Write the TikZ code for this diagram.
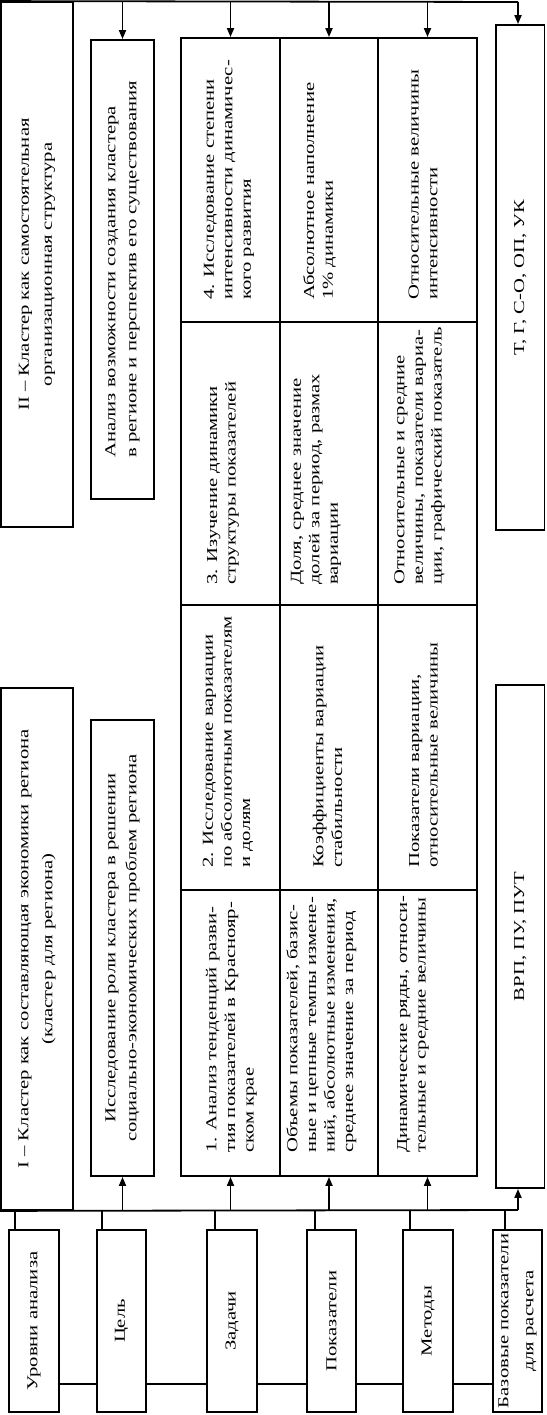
\documentclass[tikz,border=0pt]{standalone}
\usepackage{fontspec}
\setmainfont{Liberation Serif}[FakeStretch=1.36]
\usetikzlibrary{arrows.meta,calc,fit}
\begin{document}
\begin{tikzpicture}[x=1pt,y=-1pt,
  box/.style={draw,line width=1.8pt,fill=white,inner sep=0pt},
  txt/.style={rotate=90,inner sep=0pt,font=\fontsize{15.2}{23}\selectfont,align=center},
  txtl/.style={rotate=90,inner sep=0pt,font=\fontsize{15.2}{21}\selectfont,align=left},
  celltxt/.style={rotate=90,inner sep=0pt,anchor=west,font=\fontsize{15.2}{18.6}\selectfont,align=left},
  lnk/.style={line width=1.8pt},
  arr/.style={line width=1.8pt,-{Triangle[length=9pt,width=7pt]}},
]
\useasboundingbox (0,0) rectangle (546,1415);

% left column
\node[box,fit={(1,2)(73,527)}] (II) {};
\node[txt] at (II.center) {II – Кластер как самостоятельная\\организационная структура};
\node[box,fit={(1,688)(73,1210)}] (I) {};
\node[txt,font=\fontsize{15.2}{24}\selectfont] at (I.center) {I – Кластер как составляющая экономики региона\\(кластер для региона)};

% goal column
\node[box,fit={(91,40)(154,499)}] (an) {};
\node[txtl] at (an.center) {Анализ возможности создания кластера\\в регионе и перспектив его существования};
\node[box,fit={(91,720)(154,1176)}] (is) {};
\node[txt,font=\fontsize{15.2}{21}\selectfont] at (is.center) {Исследование роли кластера в решении\\социально-экономических проблем региона};

% table cells: c<col><band>
\node[box,fit={(181,890)(280,1176)}] (c11) {};
\node[box,fit={(280,890)(378,1176)}] (c21) {};
\node[box,fit={(378,890)(477,1176)}] (c31) {};
\node[box,fit={(181,605)(280,890)}] (c12) {};
\node[box,fit={(280,605)(378,890)}] (c22) {};
\node[box,fit={(378,605)(477,890)}] (c32) {};
\node[box,fit={(181,322)(280,605)}] (c13) {};
\node[box,fit={(280,322)(378,605)}] (c23) {};
\node[box,fit={(378,322)(477,605)}] (c33) {};
\node[box,fit={(181,38)(280,322)}] (c14) {};
\node[box,fit={(280,38)(378,322)}] (c24) {};
\node[box,fit={(378,38)(477,322)}] (c34) {};

\node[celltxt] at (231.5,1153) {1. Анализ тенденций разви-\\тия показателей в Краснояр-\\ском крае};
\node[celltxt] at (321.5,1153) {Объемы показателей, базис-\\ные и цепные темпы измене-\\ний, абсолютные изменения,\\среднее значение за период};
\node[celltxt] at (413,1153) {Динамические ряды, относи-\\тельные и средние величины};
\node[celltxt] at (228,868) {2. Исследование вариации\\по абсолютным показателям\\и долям};
\node[celltxt] at (327.5,868) {Коэффициенты вариации\\стабильности};
\node[celltxt] at (423.5,868) {Показатели вариации,\\относительные величины};
\node[celltxt] at (223,585) {3. Изучение динамики\\структуры показателей};
\node[celltxt] at (316,585) {Доля, среднее значение\\долей за период, размах\\вариации};
\node[celltxt] at (419.5,585) {Относительные и средние\\величины, показатели вариа-\\ции, графический показатель};
\node[celltxt] at (229,300) {4. Исследование степени\\интенсивности динамичес-\\кого развития};
\node[celltxt] at (319.5,300) {Абсолютное наполнение\\1\% динамики};
\node[celltxt] at (423,300) {Относительные величины\\интенсивности};

% right column
\node[box,fit={(496,25)(544.5,530)}] (tg) {};
\node[txt] at (tg.center) {Т, Г, С-О, ОП, УК};
\node[box,fit={(496,685)(544.5,1188)}] (vrp) {};
\node[txt] at (vrp.center) {ВРП, ПУ, ПУТ};

% bottom labels
\node[box,fit={(9,1230)(59,1412)}] (L1) {};
\node[box,fit={(97,1230)(146,1412)}] (L2) {};
\node[box,fit={(207,1230)(257,1412)}] (L3) {};
\node[box,fit={(307,1230)(356,1412)}] (L4) {};
\node[box,fit={(403,1230)(453,1412)}] (L5) {};
\node[box,fit={(493,1230)(542,1412)}] (L6) {};
\node[txt] at (L1.center) {Уровни анализа};
\node[txt] at (L2.center) {Цель};
\node[txt] at (L3.center) {Задачи};
\node[txt] at (L4.center) {Показатели};
\node[txt] at (L5.center) {Методы};
\node[txt,font=\fontsize{15.2}{25}\selectfont] at (L6.center) {Базовые показатели\\для расчета};

% links between bottom labels
\foreach \a/\b in {L1/L2,L2/L3,L3/L4,L4/L5,L5/L6}
  \draw[lnk] ($(\a.south east)+(0,-29)$) -- ($(\b.south west)+(0,-29)$);

% buses
\coordinate (tbus) at (518,2);
\coordinate (bbus) at (518,1210);
\draw[lnk] (II.north west) -- (tbus);
\draw[lnk] (I.south west) -- (bbus);

% top arrows
\foreach \n in {an,c14,c24,c34}
  \draw[arr] (\n.north |- tbus) -- (\n.north);
\draw[arr] (tbus) -- (tbus |- tg.north);

% bottom arrows
\foreach \n in {is,c11,c21,c31}
  \draw[arr] (\n.south |- bbus) -- (\n.south);
\draw[arr] (bbus) -- (bbus |- vrp.south);

% stubs from labels
\foreach \n/\d in {L1/7,L2/6,L3/9,L4/9,L5/8,L6/13}
  \draw[lnk] ($(\n.north west)+(\d,0)$) coordinate (s) -- (s |- bbus);
\end{tikzpicture}
\end{document}
